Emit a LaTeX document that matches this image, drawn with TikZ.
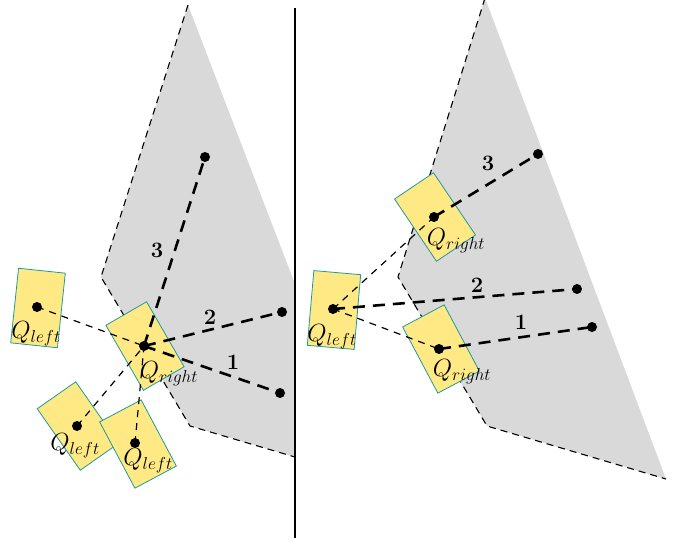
\documentclass[tikz,border=0pt]{standalone}
\usepackage{tikz}
\definecolor{qyellow}{HTML}{FFE985}
\definecolor{qteal}{HTML}{1E9A9A}
\definecolor{fov}{HTML}{D9D9D9}
\tikzset{
  qbox/.style={draw=qteal, fill=qyellow, line width=0.8pt, minimum width=47pt, minimum height=75pt, inner sep=0pt},
  dotnode/.style={circle, fill=black, inner sep=0pt, minimum size=10pt},
  ray/.style={line width=2.6pt, dash pattern=on 12pt off 8pt},
  sight/.style={line width=1.2pt, dash pattern=on 7pt off 6pt},
  edge/.style={line width=1.1pt, dash pattern=on 7pt off 5pt},
  qlabel/.style={font=\fontsize{23.5}{26}\selectfont, inner sep=0pt},
  numlabel/.style={font=\fontsize{22}{26}\selectfont\bfseries, inner sep=0pt},
}
\begin{document}
\begin{tikzpicture}[x=1pt,y=-1pt]
\useasboundingbox (0,0) rectangle (682,541);
% left panel field of view
\fill[fov] (188,5) -- (101,277) -- (190,426) -- (295,457) -- (295,284) -- cycle;
\draw[edge] (188,5) -- (101,277) -- (190,426) -- (295,457);
% right panel field of view
\fill[fov] (485,-2) -- (398,277) -- (487,426) -- (666,479) -- cycle;
\draw[edge] (485,-2) -- (398,277) -- (487,426) -- (666,479);
% divider
\coordinate (dtop) at (295,8);
\coordinate (dbot) at (295,538);
\draw[line width=2.4pt] (dtop) -- (dbot);

% ---- left panel boxes
\node[qbox, rotate=-6] (LA) at (38,308) {};
\node[qbox, rotate=35] (LB) at (78,426) {};
\node[qbox, rotate=28] (LC) at (138,444) {};
\node[qbox, rotate=30] (RC) at (145,346) {};
% ---- right panel boxes
\node[qbox, rotate=-5] (RL) at (334,310) {};
\node[qbox, rotate=34] (RU) at (435,217) {};
\node[qbox, rotate=28] (RD) at (441,349) {};

% dots left
\node[dotnode] (la) at (37,307) {};
\node[dotnode] (lb) at (77,426) {};
\node[dotnode] (lc) at (135,443) {};
\node[dotnode] (rc) at (144,346) {};
\node[dotnode] (e3) at (205,157) {};
\node[dotnode] (e2) at (282,312) {};
\node[dotnode] (e1) at (280,393) {};
% dots right
\node[dotnode] (rl) at (333,309) {};
\node[dotnode] (ru) at (434,217) {};
\node[dotnode] (rd) at (439,349) {};
\node[dotnode] (f3) at (538,154) {};
\node[dotnode] (f2) at (577,289) {};
\node[dotnode] (f1) at (592,327) {};

% left connectors
\draw[sight] (la.center) -- (rc.center);
\draw[sight] (lb.center) -- (rc.center);
\draw[sight] (lc.center) -- (rc.center);
\draw[ray] (rc.center) -- (e3.center);
\draw[ray] (rc.center) -- (e2.center);
\draw[ray] (rc.center) -- (e1.center);
% right connectors
\draw[sight] (rl.center) -- (ru.center);
\draw[sight] (rl.center) -- (rd.center);
\draw[ray] (rl.center) -- (f2.center);
\draw[ray] (ru.center) -- (f3.center);
\draw[ray] (rd.center) -- (f1.center);

% labels
\node[qlabel] (tla) at (36,334) {$Q_{left}$};
\node[qlabel] (tlb) at (75,446) {$Q_{left}$};
\node[qlabel] (tlc) at (148,461) {$Q_{left}$};
\node[qlabel] (trc) at (169,374) {$Q_{right}$};
\node[qlabel] (trl) at (332,337) {$Q_{left}$};
\node[qlabel] (tru) at (456,241) {$Q_{right}$};
\node[qlabel] (trd) at (462,372) {$Q_{right}$};

\node[numlabel] (n3) at (157,250) {3};
\node[numlabel] (n2) at (210,317) {2};
\node[numlabel] (n1) at (233,362) {1};
\node[numlabel] (m3) at (488,163) {3};
\node[numlabel] (m2) at (477,285) {2};
\node[numlabel] (m1) at (521,322) {1};
\end{tikzpicture}
\end{document}
